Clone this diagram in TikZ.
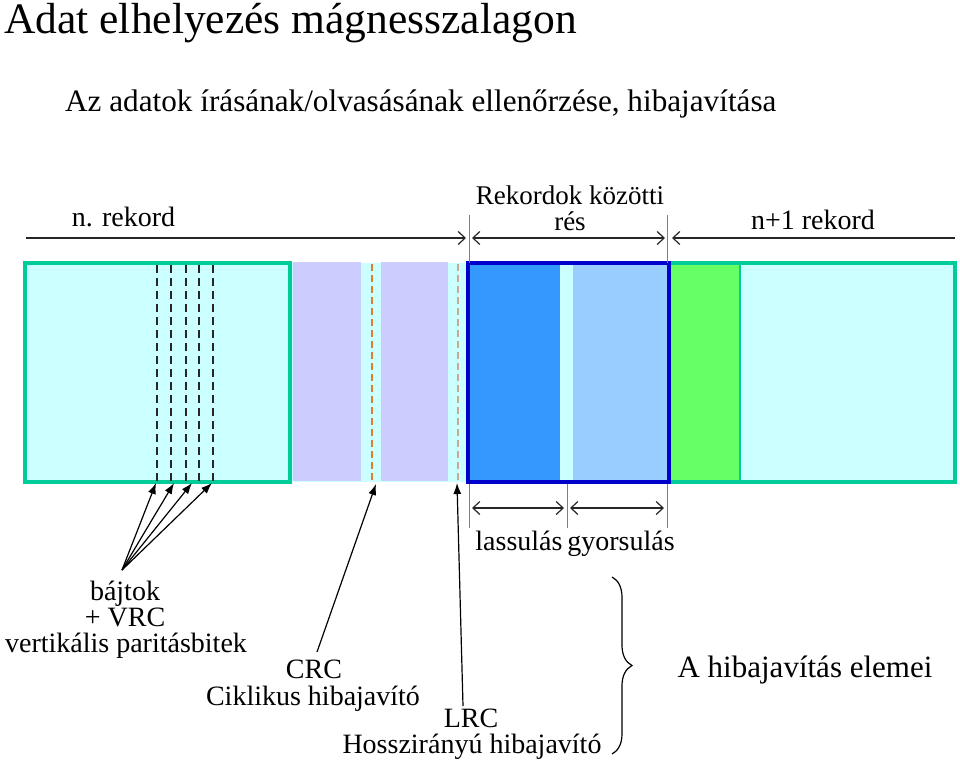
\documentclass[tikz,border=0pt]{standalone}
\usepackage{fontspec}
\setmainfont{Liberation Serif}
\usetikzlibrary{arrows.meta,decorations.pathreplacing}
\definecolor{tealb}{RGB}{0,204,153}
\definecolor{lcyan}{RGB}{204,255,255}
\definecolor{lav}{RGB}{204,204,255}
\definecolor{bborder}{RGB}{0,0,204}
\definecolor{dblue}{RGB}{51,153,255}
\definecolor{lblue}{RGB}{153,204,255}
\definecolor{lgreen}{RGB}{102,255,102}
\definecolor{orng}{RGB}{225,125,45}
\definecolor{tanc}{RGB}{200,170,140}
\newcommand\fsz[1]{\fontsize{#1}{#1}\selectfont}
\begin{document}
\begin{tikzpicture}[x=1pt,y=-1pt,
  lbl/.style={anchor=base, inner sep=0pt, text=black},
  dimarrow/.style={line width=1.2pt, draw=black!85, -{Straight Barb[length=7pt,width=13pt,line width=1.2pt]}},
  dimboth/.style={line width=1.2pt, draw=black!85, {Straight Barb[length=7pt,width=13pt,line width=1.2pt]}-{Straight Barb[length=7pt,width=13pt,line width=1.2pt]}},
  refline/.style={draw=black!50, line width=1pt},
  ptr/.style={line width=1.2pt, -{Latex[length=11pt,width=8pt]}},
  bytedash/.style={draw=black!85, line width=1.6pt, dash pattern=on 8pt off 5pt},
  recbox/.style={draw=tealb, line width=4pt},
  gapbox/.style={draw=bborder, line width=4pt}
]
\useasboundingbox (0,0) rectangle (960,761);

% titles
\node[anchor=base west, inner sep=0pt] (title) at (4,33) {\fsz{43.5}Adat elhelyezés mágnesszalagon};
\node[anchor=base west, inner sep=0pt] (sub) at (65,111) {\fsz{31.2}Az adatok írásának/olvasásának ellenőrzése, hibajavítása};

% tape background
\fill[lcyan] (25,263) rectangle (955,482);
% n. record
\draw[recbox, fill=lcyan] (25,263) rectangle (290,482);
\foreach \x in {157,171,186,199,213} \draw[bytedash] (\x,265) -- (\x,481);
% inter-block gap (CRC, LRC)
\fill[lav] (293,262) rectangle (361,481);
\fill[lav] (381,262) rectangle (448,481);
\draw[orng, line width=1.4pt, dash pattern=on 7pt off 4pt] (372,264) -- (372,482);
\draw[tanc, line width=1.4pt, dash pattern=on 7pt off 4pt] (458,264) -- (458,482);
% n+1 record
\fill[lgreen] (669,263) rectangle (740,482);
\draw[tealb, line width=1.5pt] (740,263) -- (740,482);
\draw[recbox] (669,263) rectangle (955,482);
% record gap
\fill[dblue] (468,263) rectangle (560,482);
\fill[lcyan] (560,263) rectangle (573,482);
\fill[lblue] (573,263) rectangle (669,482);
\draw[gapbox] (468,263) rectangle (669,482);

% reference lines
\draw[refline] (469,215) -- (469,263);
\draw[refline] (667,215) -- (667,263);
\draw[refline] (469,484) -- (469,528);
\draw[refline] (567,484) -- (567,528);
\draw[refline] (667,484) -- (667,528);

% top dimension arrows
\coordinate (nA) at (26,238);
\coordinate (nB) at (466,238);
\coordinate (gA) at (472,238);
\coordinate (gB) at (665,238);
\coordinate (mA) at (955,238);
\coordinate (mB) at (672,238);
\draw[dimarrow] (nA) -- (nB);
\draw[dimboth] (gA) -- (gB);
\draw[dimarrow] (mA) -- (mB);

\node[lbl] (nrek) at (123.5,226) {\fsz{28}n. rekord};
\node[lbl] (rk1) at (570,204) {\fsz{27}Rekordok közötti};
\node[lbl] (rk2) at (570,230) {\fsz{27}rés};
\node[lbl] (n1rek) at (813,229) {\fsz{28}n+1 rekord};

% bottom dimension arrows
\coordinate (lA) at (472,508);
\coordinate (lB) at (564,508);
\coordinate (yA) at (570,508);
\coordinate (yB) at (664,508);
\draw[dimboth] (lA) -- (lB);
\draw[dimboth] (yA) -- (yB);
\node[lbl] (lass) at (519,550) {\fsz{28}lassulás};
\node[lbl] (gyor) at (621,550) {\fsz{28}gyorsulás};

% bytes + VRC
\node[lbl] (baj) at (125,600) {\fsz{28}bájtok};
\node[lbl] (vrc) at (125,626) {\fsz{28}+ VRC};
\node[lbl] (vert) at (126,652) {\fsz{28}vertikális paritásbitek};
\coordinate (bsrc) at (122,570);
\coordinate (b1) at (156,483);
\coordinate (b2) at (174,483);
\coordinate (b3) at (192,483);
\coordinate (b4) at (212,483);
\foreach \t in {b1,b2,b3,b4} \draw[ptr] (bsrc) -- (\t);

% CRC
\node[lbl] (crc) at (314,678) {\fsz{28}CRC};
\node[lbl] (cik) at (313,705) {\fsz{28}Ciklikus hibajavító};
\coordinate (csrc) at (317,652);
\coordinate (ctip) at (376,484);
\draw[ptr] (csrc) -- (ctip);

% LRC
\node[lbl] (lrc) at (471,727) {\fsz{28}LRC};
\node[lbl] (hossz) at (472,753) {\fsz{28}Hosszirányú hibajavító};
\coordinate (lsrc) at (463,706);
\coordinate (ltip) at (457,483);
\draw[ptr] (lsrc) -- (ltip);

% brace
\coordinate (brT) at (612,577);
\coordinate (brB) at (612,754);
\draw[line width=1.2pt, decorate, decoration={brace, amplitude=20pt}] (brT) -- (brB);
\node[lbl] (elemei) at (805,677) {\fsz{31}A hibajavítás elemei};
\end{tikzpicture}
\end{document}
